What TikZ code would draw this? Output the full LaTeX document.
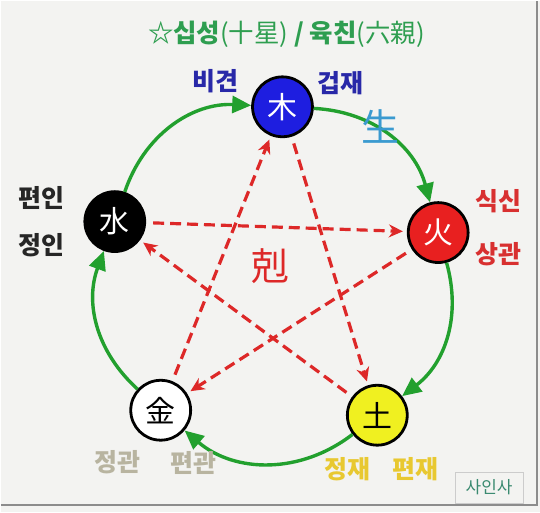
\documentclass[tikz,border=0pt]{standalone}
\usepackage{fontspec}
\usetikzlibrary{arrows.meta}
\newfontfamily\kr{Noto Sans CJK KR}
\definecolor{bgcol}{HTML}{F3F3F1}
\definecolor{frame}{HTML}{8C8C8C}
\definecolor{sgreen}{HTML}{22A02E}
\definecolor{kred}{HTML}{DD2828}
\definecolor{wblue}{HTML}{1E1EE0}
\definecolor{fred}{HTML}{E82020}
\definecolor{eyellow}{HTML}{F0F020}
\definecolor{tgreen}{HTML}{2E9E50}
\definecolor{lblue}{HTML}{2828A8}
\definecolor{scyan}{HTML}{3A9AD0}
\definecolor{lred}{HTML}{D83030}
\definecolor{lgray}{HTML}{B8B4A0}
\definecolor{lgold}{HTML}{E8C830}
\definecolor{stamp}{HTML}{3A8A70}
\begin{document}
\begin{tikzpicture}[x=1pt, y=1pt,
    elem/.style={circle, draw=black, line width=2.8pt, minimum size=60pt,
        inner sep=0pt, font=\kr\fontsize{30}{30}\selectfont},
    saeng/.style={draw=sgreen, line width=3.4pt,
        -{Triangle[length=19pt,width=17pt]}},
    geuk/.style={draw=kred, line width=3.2pt, dash pattern=on 11pt off 6pt,
        -{Stealth[length=14pt,width=13pt]}, shorten <=7pt, shorten >=4pt},
    lbl/.style={font=\kr\bfseries\fontsize{25}{25}\selectfont}]
    % Background and frame
    \fill[bgcol] (0,0) rectangle (540,512);
    \draw[frame, line width=2pt] (0,7) -- (537,7) -- (537,512);
    % Title
    \node[text=tgreen, font=\kr\bfseries\fontsize{25.5}{25.5}\selectfont] (title) at (286,479)
        {☆십성{\mdseries(十星)} / 육친{\mdseries(六親)}};
    % Five elements
    \node[elem, fill=wblue, text=white] (wood) at (282,406) {木};
    \node[elem, fill=fred, text=white] (fire) at (438,280) {火};
    \node[elem, fill=eyellow] (earth) at (377,97) {土};
    \node[elem, fill=white] (metal) at (160,102) {金};
    \node[elem, fill=black, text=white] (water) at (114,291) {水};
    % Generating cycle
    \foreach \a/\b/\t in {wood/fire/36, fire/earth/34, earth/metal/39, metal/water/34, water/wood/37}
        \draw[saeng] (\a) to[bend left=\t] (\b);
    % Controlling cycle
    \foreach \a/\b in {wood/earth, earth/water, water/fire, fire/metal, metal/wood}
        \draw[geuk] (\a) -- (\b);
    \node[text=scyan, font=\kr\fontsize{38}{38}\selectfont] (saenglbl) at (380,386) {生};
    \node[text=kred, font=\kr\fontsize{38}{38}\selectfont] (geuklbl) at (270,246) {剋};
    % Ten stars
    \node[lbl, text=lblue] (bigyeon) at (215,432) {비견};
    \node[lbl, text=lblue] (geopjae) at (340,430) {겁재};
    \node[lbl, text=lred] (siksin) at (498,311) {식신};
    \node[lbl, text=lred] (sanggwan) at (498,258) {상관};
    \node[lbl, text=black!85] (pyeonin) at (41,315) {편인};
    \node[lbl, text=black!85] (jeongin) at (41,267) {정인};
    \node[lbl, text=lgray] (jeonggwan) at (117,50) {정관};
    \node[lbl, text=lgray] (pyeongwan) at (193,49) {편관};
    \node[lbl, text=lgold] (jeongjae) at (347,43) {정재};
    \node[lbl, text=lgold] (pyeonjae) at (415,43) {편재};
    % Stamp
    \node[draw=black!20, line width=1pt, text=stamp, minimum width=68pt, minimum height=31pt,
        font=\kr\fontsize{17}{17}\selectfont] (stamp) at (489,24.5) {사인사};
\end{tikzpicture}
\end{document}
